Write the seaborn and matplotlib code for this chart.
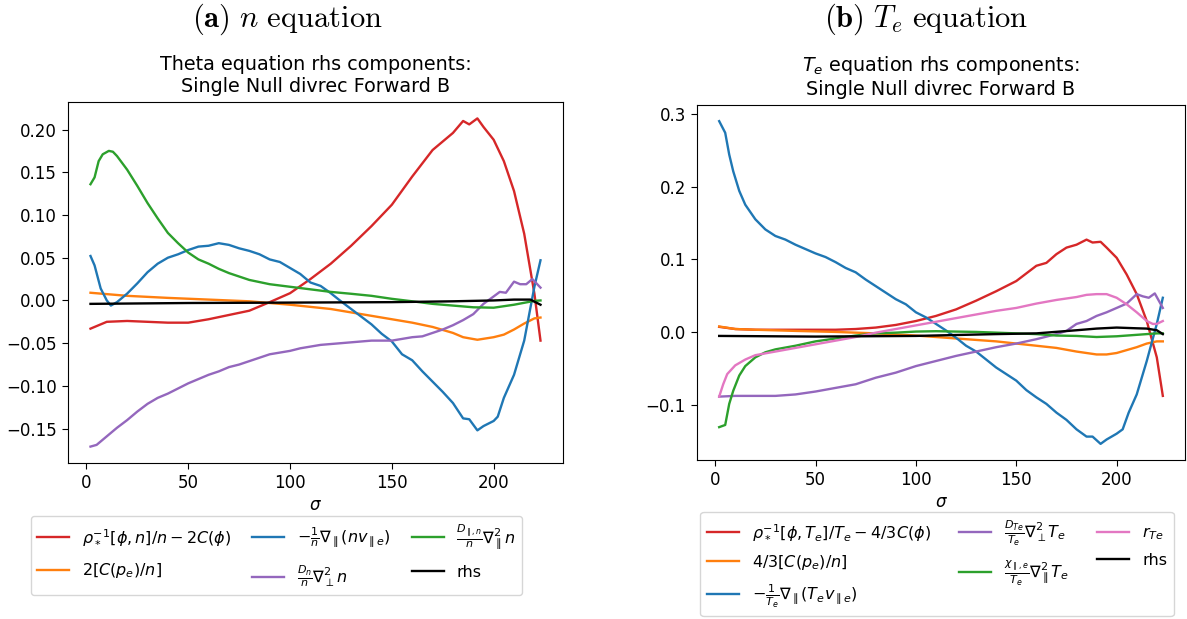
import numpy as np
import pandas as pd
import matplotlib
matplotlib.use("Agg")
import matplotlib.pyplot as plt
import seaborn as sns

plt.rcParams["mathtext.fontset"] = "dejavusans"

# ---------------- (a) n equation ----------------
a_red_x = [2, 10, 20, 30, 40, 50, 60, 70, 80, 90, 100, 110, 120, 130, 140, 150, 160, 170, 180, 185, 188, 192, 195, 200, 205, 210, 215, 220, 223]
a_red_y = [-0.033, -0.025, -0.024, -0.025, -0.026, -0.026, -0.022, -0.017, -0.012, -0.002, 0.0085, 0.025, 0.043, 0.064, 0.087, 0.112, 0.145, 0.176, 0.196, 0.210, 0.206, 0.213, 0.203, 0.188, 0.163, 0.128, 0.078, 0.008, -0.047]

a_blue_x = [2, 4, 7, 10, 12, 15, 20, 25, 30, 35, 40, 45, 50, 55, 60, 65, 70, 75, 80, 85, 90, 95, 100, 105, 110, 115, 120, 125, 130, 135, 140, 145, 150, 155, 160, 165, 170, 175, 180, 185, 188, 192, 195, 200, 202, 205, 210, 215, 220, 223]
a_blue_y = [0.052, 0.041, 0.014, 0.0, -0.006, -0.002, 0.008, 0.020, 0.033, 0.043, 0.050, 0.054, 0.059, 0.063, 0.064, 0.067, 0.065, 0.061, 0.058, 0.054, 0.048, 0.045, 0.038, 0.031, 0.021, 0.017, 0.0085, -0.001, -0.010, -0.019, -0.028, -0.039, -0.048, -0.063, -0.070, -0.083, -0.095, -0.107, -0.120, -0.138, -0.139, -0.152, -0.147, -0.141, -0.136, -0.114, -0.087, -0.047, 0.016, 0.047]

a_green_x = [2, 4, 6, 8, 11, 13, 15, 20, 25, 30, 35, 40, 45, 50, 55, 60, 65, 70, 80, 90, 100, 110, 120, 130, 140, 150, 160, 170, 180, 190, 200, 210, 220, 223]
a_green_y = [0.136, 0.144, 0.163, 0.171, 0.175, 0.174, 0.169, 0.153, 0.134, 0.114, 0.096, 0.079, 0.067, 0.056, 0.048, 0.043, 0.037, 0.032, 0.024, 0.019, 0.016, 0.013, 0.010, 0.0078, 0.0054, 0.0019, -0.001, -0.004, -0.006, -0.008, -0.0085, -0.005, -0.0005, 0.0]

a_orange_x = [2, 20, 40, 60, 80, 100, 120, 140, 160, 170, 180, 185, 192, 200, 205, 210, 215, 220, 223]
a_orange_y = [0.009, 0.0054, 0.003, 0.001, -0.001, -0.005, -0.010, -0.018, -0.026, -0.031, -0.038, -0.043, -0.046, -0.043, -0.040, -0.034, -0.027, -0.021, -0.020]

a_purple_x = [2, 5, 10, 15, 20, 25, 30, 35, 40, 45, 50, 55, 60, 65, 70, 75, 80, 85, 90, 95, 100, 105, 110, 115, 120, 125, 130, 140, 150, 155, 160, 165, 170, 175, 180, 185, 190, 195, 200, 203, 206, 210, 213, 216, 219, 223]
a_purple_y = [-0.171, -0.169, -0.159, -0.149, -0.140, -0.130, -0.121, -0.114, -0.109, -0.103, -0.097, -0.092, -0.087, -0.083, -0.078, -0.075, -0.071, -0.067, -0.063, -0.061, -0.059, -0.056, -0.054, -0.052, -0.051, -0.050, -0.049, -0.047, -0.047, -0.045, -0.043, -0.042, -0.038, -0.034, -0.029, -0.023, -0.016, -0.004, 0.0047, 0.010, 0.009, 0.022, 0.019, 0.019, 0.025, 0.015]

a_black_x = [2, 50, 100, 150, 180, 200, 210, 218, 223]
a_black_y = [-0.004, -0.003, -0.0025, -0.002, -0.001, 0.0, 0.001, 0.001, -0.005]

a_labels = [r"$\rho_*^{-1}[\phi,n]/n - 2C(\phi)$",
            r"$2[C(p_e)/n]$",
            r"$-\frac{1}{n}\nabla_\parallel(nv_{\parallel e})$",
            r"$\frac{D_n}{n}\nabla^2_\perp n$",
            r"$\frac{D_{\parallel,n}}{n}\nabla^2_\parallel n$",
            "rhs"]

# ---------------- (b) Te equation ----------------
b_red_x = [2, 10, 20, 40, 60, 70, 80, 90, 100, 110, 120, 130, 140, 150, 160, 165, 170, 175, 180, 185, 188, 192, 195, 200, 205, 210, 215, 220, 223]
b_red_y = [0.007, 0.004, 0.003, 0.003, 0.003, 0.004, 0.006, 0.0096, 0.015, 0.022, 0.031, 0.043, 0.056, 0.070, 0.091, 0.095, 0.107, 0.116, 0.120, 0.127, 0.123, 0.124, 0.116, 0.102, 0.079, 0.052, 0.015, -0.035, -0.088]

b_orange_x = [2, 10, 20, 40, 60, 80, 100, 120, 140, 160, 170, 180, 190, 195, 200, 205, 210, 215, 220, 223]
b_orange_y = [0.0075, 0.004, 0.003, 0.0014, 0.0, -0.002, -0.005, -0.009, -0.013, -0.019, -0.022, -0.027, -0.031, -0.031, -0.029, -0.025, -0.021, -0.016, -0.013, -0.013]

b_blue_x = [2, 5, 7, 9, 12, 15, 20, 25, 30, 35, 40, 45, 50, 55, 60, 65, 70, 75, 80, 85, 90, 95, 100, 105, 110, 115, 120, 125, 130, 135, 140, 145, 150, 155, 160, 165, 170, 175, 180, 185, 188, 192, 195, 200, 203, 206, 210, 215, 220, 223]
b_blue_y = [0.290, 0.274, 0.244, 0.221, 0.194, 0.175, 0.155, 0.141, 0.132, 0.127, 0.120, 0.114, 0.108, 0.103, 0.096, 0.088, 0.082, 0.072, 0.063, 0.054, 0.045, 0.038, 0.027, 0.020, 0.011, 0.002, -0.008, -0.019, -0.027, -0.038, -0.049, -0.058, -0.067, -0.080, -0.090, -0.099, -0.111, -0.121, -0.134, -0.144, -0.144, -0.154, -0.148, -0.140, -0.134, -0.111, -0.086, -0.040, 0.011, 0.047]

b_purple_x = [2, 10, 20, 30, 40, 50, 60, 70, 80, 90, 100, 110, 120, 130, 140, 150, 160, 170, 175, 180, 185, 190, 195, 200, 205, 210, 213, 216, 219, 223]
b_purple_y = [-0.089, -0.088, -0.088, -0.088, -0.086, -0.082, -0.077, -0.072, -0.063, -0.056, -0.047, -0.040, -0.033, -0.027, -0.021, -0.016, -0.010, -0.003, 0.0014, 0.011, 0.015, 0.022, 0.027, 0.033, 0.039, 0.052, 0.049, 0.047, 0.053, 0.033]

b_green_x = [2, 5, 7, 9, 12, 15, 20, 25, 30, 40, 50, 60, 70, 80, 90, 100, 110, 120, 130, 140, 150, 160, 170, 180, 190, 200, 210, 220, 223]
b_green_y = [-0.131, -0.128, -0.099, -0.081, -0.060, -0.047, -0.035, -0.028, -0.024, -0.019, -0.013, -0.009, -0.005, -0.002, -0.001, 0.0005, 0.001, 0.0005, 0.0, -0.001, -0.002, -0.003, -0.005, -0.0055, -0.007, -0.006, -0.004, -0.002, -0.002]

b_pink_x = [2, 4, 6, 10, 15, 20, 30, 40, 50, 60, 70, 80, 90, 100, 110, 120, 130, 140, 150, 160, 170, 180, 185, 190, 195, 200, 205, 210, 215, 218, 220, 223]
b_pink_y = [-0.089, -0.072, -0.058, -0.046, -0.038, -0.032, -0.027, -0.022, -0.017, -0.012, -0.007, -0.001, 0.004, 0.009, 0.014, 0.019, 0.024, 0.029, 0.033, 0.039, 0.044, 0.048, 0.051, 0.052, 0.052, 0.047, 0.038, 0.027, 0.015, 0.011, 0.011, 0.015]

b_black_x = [2, 50, 100, 140, 160, 180, 190, 200, 210, 215, 220, 223]
b_black_y = [-0.0055, -0.0064, -0.0055, -0.003, -0.002, 0.0023, 0.0046, 0.006, 0.005, 0.0046, 0.0023, -0.003]

b_labels = [r"$\rho_*^{-1}[\phi,T_e]/T_e - 4/3C(\phi)$",
            r"$4/3[C(p_e)/n]$",
            r"$-\frac{1}{T_e}\nabla_\parallel(T_ev_{\parallel e})$",
            r"$\frac{D_{Te}}{T_e}\nabla^2_\perp T_e$",
            r"$\frac{\chi_{\parallel,e}}{T_e}\nabla^2_\parallel T_e$",
            r"$r_{Te}$",
            "rhs"]

colors = {"red": "#d62728", "orange": "#ff7f0e", "blue": "#1f77b4",
          "purple": "#9467bd", "green": "#2ca02c", "pink": "#e377c2", "black": "black"}

fig = plt.figure(figsize=(11.87, 6.19), dpi=100)
ax1 = fig.add_axes([68/1187, 1-463/619, (563-68)/1187, (463-102)/619])
ax2 = fig.add_axes([697/1187, 1-460/619, (1185-697)/1187, (460-105)/619])

a_series = [(a_red_x, a_red_y, "red"), (a_orange_x, a_orange_y, "orange"),
            (a_blue_x, a_blue_y, "blue"), (a_purple_x, a_purple_y, "purple"),
            (a_green_x, a_green_y, "green"), (a_black_x, a_black_y, "black")]
b_series = [(b_red_x, b_red_y, "red"), (b_orange_x, b_orange_y, "orange"),
            (b_blue_x, b_blue_y, "blue"), (b_purple_x, b_purple_y, "purple"),
            (b_green_x, b_green_y, "green"), (b_pink_x, b_pink_y, "pink"),
            (b_black_x, b_black_y, "black")]

for ax, series, labels in [(ax1, a_series, a_labels), (ax2, b_series, b_labels)]:
    for (xs, ys, c), lab in zip(series, labels):
        df = pd.DataFrame({"sigma": xs, "val": ys})
        sns.lineplot(data=df, x="sigma", y="val", ax=ax, color=colors[c],
                     label=lab, linewidth=1.7, estimator=None, sort=False)
    ax.set_xlabel(r"$\sigma$", fontsize=12, labelpad=3)
    ax.set_ylabel("")
    ax.tick_params(labelsize=12, length=4.5)
    ax.get_legend().remove()

ax1.set_title("Theta equation rhs components:\nSingle Null divrec Forward B", fontsize=13.8, pad=7)
ax2.set_title(r"$T_e$ equation rhs components:" + "\nSingle Null divrec Forward B", fontsize=13.8, pad=7)
ax1.set_yticks([-0.15, -0.10, -0.05, 0.0, 0.05, 0.10, 0.15, 0.20])
ax1.set_yticklabels(["−0.15", "−0.10", "−0.05", "0.00", "0.05", "0.10", "0.15", "0.20"])
ax2.set_yticks([-0.1, 0.0, 0.1, 0.2, 0.3])
ax2.set_yticklabels(["−0.1", "0.0", "0.1", "0.2", "0.3"])
ax1.set_xticks([0, 50, 100, 150, 200])
ax2.set_xticks([0, 50, 100, 150, 200])

h1, l1 = ax1.get_legend_handles_labels()
fig.legend(h1, l1, loc="upper center", bbox_to_anchor=(276.5/1187, 1-508/619),
           ncol=3, fontsize=11.5, frameon=True, columnspacing=1.3, labelspacing=0.85)
h2, l2 = ax2.get_legend_handles_labels()
fig.legend(h2, l2, loc="upper center", bbox_to_anchor=(937/1187, 1-504/619),
           ncol=3, fontsize=11.5, frameon=True, columnspacing=1.8, labelspacing=0.65)

cap = dict(fontsize=22, ha="center", va="center", math_fontfamily="cm")
fig.text(287/1187, 1-19/619, r"$\mathbf{(a)}\ n\ \mathrm{equation}$", **cap)
fig.text(926/1187, 1-19/619, r"$\mathbf{(b)}\ T_e\ \mathrm{equation}$", **cap)

fig.savefig("out.png", dpi=100)
